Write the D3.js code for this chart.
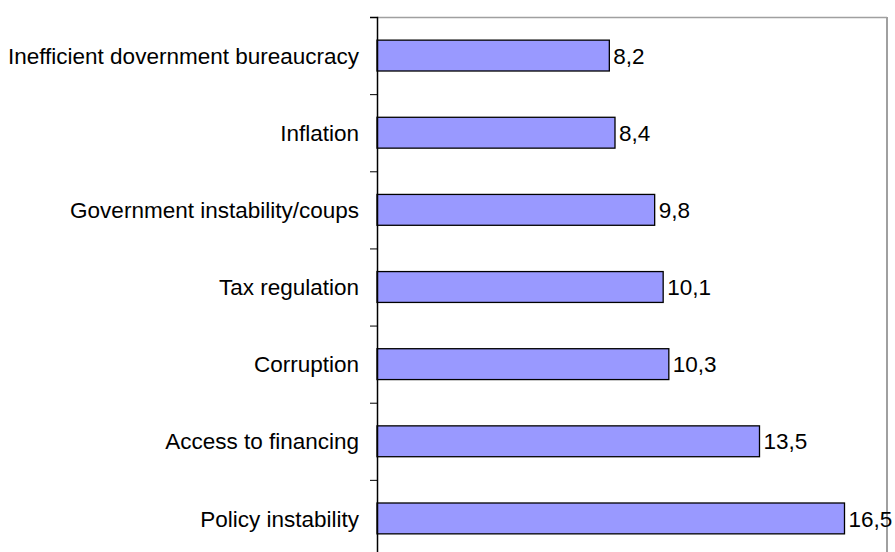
<!DOCTYPE html>
<html>
<head>
<meta charset="utf-8">
<script src="https://cdn.jsdelivr.net/npm/d3@7"></script>
<style>
  body { margin: 0; background: #fff; }
  text { font-family: "Liberation Sans", Arial, sans-serif; }
</style>
</head>
<body>
<div id="chart"></div>
<script>
var categories = ["Inefficient dovernment bureaucracy", "Inflation", "Government instability/coups",
                  "Tax regulation", "Corruption", "Access to financing", "Policy instability"];
var values = [8.2, 8.4, 9.8, 10.1, 10.3, 13.5, 16.5];
var valueLabels = ["8,2", "8,4", "9,8", "10,1", "10,3", "13,5", "16,5"];

var width = 895, height = 552;
var plot = {left: 377, right: 887, top: 17, bottom: 557};
var fontSize = 22.5;

var svg = d3.select("#chart")
  .append("svg")
  .attr("width", width)
  .attr("height", height);

var x = d3.scaleLinear()
  .domain([0, 18])
  .range([plot.left, plot.right]);

var y = d3.scaleBand()
  .domain(categories)
  .range([plot.top, plot.bottom])
  .paddingInner(0.6)
  .paddingOuter(0.3);

// tick marks sit between categories, so use an index scale for them
var yIdx = d3.scaleLinear()
  .domain([0, categories.length])
  .range([plot.top, plot.bottom]);

// plot area frame (top and right, grey)
svg.append("line")
  .attr("x1", plot.left).attr("x2", plot.right)
  .attr("y1", plot.top + 0.5).attr("y2", plot.top + 0.5)
  .attr("stroke", "#a0a0a0").attr("stroke-width", 1.5);
svg.append("line")
  .attr("x1", plot.right).attr("x2", plot.right)
  .attr("y1", plot.top).attr("y2", plot.bottom)
  .attr("stroke", "#a0a0a0").attr("stroke-width", 2);

var bars = svg.selectAll(".bar")
  .data(values)
  .enter()
  .append("rect")
  .attr("class", "bar")
  .attr("x", x(0))
  .attr("y", function(d, i) { return y(categories[i]); })
  .attr("width", function(d) { return x(d) - x(0); })
  .attr("height", y.bandwidth())
  .attr("fill", "#9999ff")
  .attr("stroke", "#000")
  .attr("stroke-width", 1.3);

svg.selectAll(".val")
  .data(values)
  .enter()
  .append("text")
  .attr("class", "val")
  .attr("x", function(d) { return x(d) + 4; })
  .attr("y", function(d, i) { return y(categories[i]) + y.bandwidth() / 2; })
  .attr("dy", "0.36em")
  .attr("font-size", fontSize)
  .attr("fill", "#000")
  .text(function(d, i) { return valueLabels[i]; });

var axis = svg.append("g")
  .attr("transform", "translate(" + x(0) + ",0)")
  .call(d3.axisLeft(yIdx)
    .tickValues(d3.range(categories.length + 1))
    .tickSize(7)
    .tickFormat(""));
axis.select(".domain").attr("stroke", "#000").attr("stroke-width", 1.5);
axis.selectAll(".tick line").attr("stroke", "#000");

svg.selectAll(".cat")
  .data(categories)
  .enter()
  .append("text")
  .attr("class", "cat")
  .attr("x", x(0) - 18)
  .attr("y", function(d) { return y(d) + y.bandwidth() / 2; })
  .attr("dy", "0.36em")
  .attr("text-anchor", "end")
  .attr("font-size", fontSize)
  .attr("fill", "#000")
  .text(function(d) { return d; });
</script>
</body>
</html>
